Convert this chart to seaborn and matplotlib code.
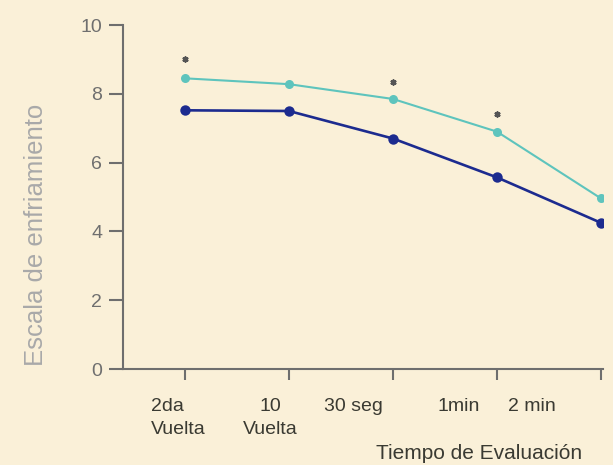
import matplotlib
matplotlib.use("Agg")
import matplotlib.pyplot as plt
import seaborn as sns
import pandas as pd
import numpy as np

# ---- data ----
time_labels = ["2da\nVuelta", "10\nVuelta", "30 seg", "1min", "2 min"]
series_top = [8.45, 8.28, 7.85, 6.90, 4.96]      # teal series
series_bottom = [7.52, 7.50, 6.70, 5.57, 4.25]   # navy series
sig_index = [0, 2, 3]
sig_y = [9.02, 8.35, 7.41]
y_ticks = [0, 2, 4, 6, 8, 10]

BG = "#faf0d8"
TEAL = "#5ec4bd"
NAVY = "#1c2b8f"
AXC = "#6e6e6e"

sns.set_theme(style="white")
plt.rcParams["font.family"] = ["Liberation Sans", "DejaVu Sans"]

fig = plt.figure(figsize=(6.13, 4.65), dpi=100, facecolor=BG)
ax = fig.add_axes([123 / 613, 1 - 369 / 465, 480 / 613, 344 / 465])
ax.set_facecolor(BG)

pos = np.arange(len(time_labels))
df = pd.DataFrame({
    "pos": np.concatenate([pos, pos]),
    "valor": series_top + series_bottom,
    "grupo": ["A"] * len(pos) + ["B"] * len(pos),
})

sns.lineplot(data=df[df.grupo == "A"], x="pos", y="valor", color=TEAL,
             linewidth=1.5, marker="o", markersize=6.5, markeredgewidth=0,
             ax=ax, legend=False)
sns.lineplot(data=df[df.grupo == "B"], x="pos", y="valor", color=NAVY,
             linewidth=1.9, marker="o", markersize=7.5, markeredgewidth=0,
             ax=ax, legend=False)
ax.scatter([pos[i] for i in sig_index], sig_y, marker=(6, 2, 0), s=9,
           color="#555555", linewidths=1.6, zorder=5)

ax.set_xlim(-0.596, 4.02)
ax.set_ylim(0, 10)

for s in ["top", "right"]:
    ax.spines[s].set_visible(False)
for s in ["left", "bottom"]:
    ax.spines[s].set_color(AXC)
    ax.spines[s].set_linewidth(1.5)

ax.set_yticks(y_ticks)
ax.set_yticklabels([str(v) for v in y_ticks])
ax.tick_params(axis="y", direction="out", length=10, width=1.5, color=AXC,
               labelsize=14, labelcolor="#6f6f6f", pad=5, left=True)

ax.set_xticks(pos)
ax.set_xticklabels([])
ax.tick_params(axis="x", which="major", direction="out", length=8, width=1.5,
               color=AXC, bottom=True)

label_pos = [-0.067, 0.817, 1.62, 2.63, 3.34]
ax.set_xticks(label_pos, minor=True)
ax.set_xticklabels(time_labels, minor=True)
ax.tick_params(axis="x", which="minor", length=0, labelsize=14,
               labelcolor="#3a3a32", pad=21)
for t, ma in zip(ax.get_xticklabels(minor=True),
                 ["left", "center", "center", "center", "center"]):
    t.set_multialignment(ma)
    t.set_linespacing(1.42)

ax.set_xlabel("Tiempo de Evaluación", fontsize=15, color="#3a3a32")
ax.xaxis.set_label_coords(0.742, -0.218)
ax.xaxis.label.set_ha("center")
ax.xaxis.label.set_va("top")

ax.set_ylabel("Escala de enfriamiento", fontsize=18.5, color="#a9a9a9")
ax.yaxis.set_label_coords(-0.181, 0.39)
ax.yaxis.label.set_va("center")

fig.savefig("out.png", dpi=100, facecolor=BG)
